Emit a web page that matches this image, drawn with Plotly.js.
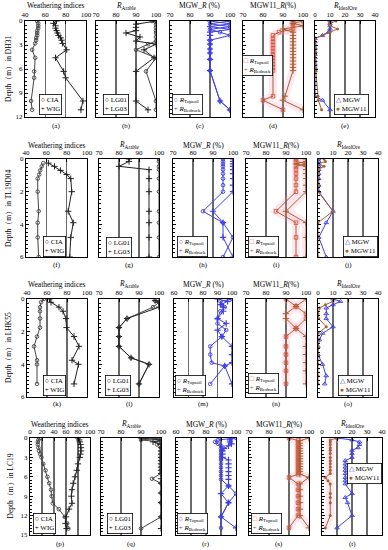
<!DOCTYPE html>
<html><head><meta charset="utf-8">
<script src="https://cdn.plot.ly/plotly-3.0.1.min.js"></script>
<style>html,body{margin:0;padding:0;background:#fff}#chart{width:388px;height:550px}</style>
</head><body><div id="chart"></div>
<script>
// ---------------- DATA ----------------
const wells = ['DH31', 'TL19D04', 'LHK55', 'LC19'];
const panelTitles = ['Weathering indices', '<i>R</i><sub>Arable</sub>', 'MGW_<i>R</i> (%)', 'MGW11_<i>R</i>(%)', '<i>R</i><sub>IdealOre</sub>'];

// DH31
const dep_DH31_a = [0, 0.3, 0.6, 0.9, 1.2, 1.5, 1.8, 2.1, 2.4, 2.8, 3.6, 4.6, 6.3, 7.1, 10.0, 11.1];
const CIA_DH31 = [52, 53, 53, 53, 52, 52, 52, 51, 51, 50, 47, 50, 49, 49, 46, 47];
const WIG_DH31 = [71, 68, 70, 70, 71, 72, 73, 75, 76, 77, 81, 70, 78, 80, 97, 95];
const dep_DH31_b = [0, 0.4, 0.8, 1.2, 1.5, 2.0, 2.5, 2.9, 3.6, 4.6, 6.3, 10.0, 11.1];
const LG01_DH31 = [98, 100, 100, 100, 100, 100, 100, 96, 90, 100, 95, 100, 100];
const LG03_DH31 = [100, 90, 90, 90, 85, 92, 90, 100, 94, 99, 90, 90, 96];
const dep_DH31_c = [0, 0.35, 0.7, 1.05, 1.4, 1.8, 2.4, 2.9, 3.5, 4.0, 4.8, 6.2, 10.0, 11.1];
const Top_DH31_c = [100, 90, 100, 90, 95, 100, 90, 90, 90, 90, 90, 90, 95, 100];
const Bed_DH31_c = [90, 100, 90, 100, 90, 90, 90, 90, 90, 90, 90, 90, 95, 100];
const dep_DH31_de = [0, 0.3, 0.6, 1.0, 1.4, 1.8, 2.2, 2.6, 3.0, 3.4, 3.8, 4.2, 4.6, 5.0, 5.4, 5.8, 6.2, 9.4, 9.9, 11.1];
const Top_DH31_d = [100, 95, 95, 95, 88, 85, 85, 85, 85, 85, 85, 85, 85, 85, 85, 85, 85, 85, 80, 90];
const Bed_DH31_d = [95, 95, 100, 90, 95, 95, 95, 95, 95, 95, 95, 95, 95, 95, 95, 95, 95, 91, 90, 100];
const MGW_DH31 = [10, 10, 10, 10, 9, 5, 0, 0, 0, 0, 0, 0, 0, 0, 0, 0, 0, 0, 5, 10];
const MGW11_DH31 = [14, 10, 10, 15, 10, 5, 0, 0, 0, 0, 0, 0, 0, 0, 0, 0, 0.5, 2, 2.2, 4.4];

// TL19D04
const dep_TL_a = [0.25, 0.45, 0.7, 0.95, 1.2, 2.0, 3.2, 3.9, 4.8, 6.0];
const CIA_TL = [57, 55.5, 54, 53, 51.5, 51.5, 52.5, 51.5, 51.5, 52.5];
const WIG_TL = [62, 68, 74, 80, 84, 85, 81.5, 86.5, 84, 83];
const dep_TL_b = [0, 0.15, 0.45, 0.65, 1.2, 2.0, 3.2, 3.9, 4.8, 6.0];
const LG01_TL = [100, 100, 100, 100, 100, 100, 100, 100, 100, 100];
const LG03_TL = [85, 85, 80, 95, 95, 95, 95, 95, 95, 95];
const dep_TL_cde = [0, 0.15, 0.3, 0.45, 0.65, 0.9, 1.2, 1.6, 2.0, 3.2, 3.9, 4.8, 6.0];
const Top_TL_c = [95, 95, 95, 95, 95, 95, 95, 95, 95, 85, 95, 100, 95];
const Bed_TL_c = [100, 100, 100, 100, 100, 100, 100, 100, 100, 90, 95, 95, 100];
const Top_TL_d = [95, 95, 100, 95, 95, 95, 95, 95, 95, 85, 95, 95, 95];
const Bed_TL_d = [100, 100, 95, 100, 100, 100, 100, 100, 100, 90, 100, 100, 100];
const MGW_TL = [0.5, 0.5, 0.5, 0.5, 0.5, 0.5, 0.5, 0.5, 0.5, 10, 5.5, 0.5, 5.5];
const MGW11_TL = [4, 5, 0, 4, 0, 0, 0, 0, 0, 10, 0, 0, 0];

// LHK55
const dep_LHK_a = [0, 0.2, 0.5, 0.75, 1.2, 1.75, 2.3, 2.9, 3.75, 4.0, 5.2];
const CIA_LHK = [57, 54, 53, 53, 53, 53, 50, 47, 50, 50, 50];
const WIG_LHK = [62.5, 64, 72, 76, 79, 79.5, 87, 92, 85, 91.5, 87];
const dep_LHK_b = [0.1, 0.2, 0.5, 1.2, 1.75, 2.3, 2.9, 3.6, 4.0, 5.2];
const LG01_LHK = [98, 100, 97, 84, 80, 80, 80, 86, 95, 90];
const LG03_LHK = [98, 100, 100, 84, 80, 80, 80, 86, 95, 90];
const dep_LHK_c = [0, 0.15, 0.35, 0.5, 0.75, 1.2, 1.5, 1.9, 2.3, 2.9, 3.4, 3.9, 4.1, 5.2];
const Top_LHK_c = [100, 92, 93, 95, 92, 90, 90, 96, 93, 85, 85, 86, 95, 85];
const Bed_LHK_c = [90, 97, 92, 94, 94, 90, 96, 90, 93, 100, 100, 100, 95, 100];
const dep_LHK_d = [0, 0.45, 0.9, 1.2, 1.8, 2.3, 2.9, 3.4, 3.9, 4.4, 5.2];
const Top_LHK_d = [90, 95, 100, 100, 95, 90, 90, 90, 90, 90, 90];
const Bed_LHK_d = [100, 95, 90, 90, 95, 100, 100, 100, 100, 100, 100];
const dep_LHK_e = [0, 0.15, 0.35, 0.55, 0.9, 1.2, 1.7, 2.1, 2.5, 2.9, 3.4, 4.0, 4.7, 5.2];
const MGW_LHK = [10, 15, 10, 5.5, 5.5, 5.5, 10, 3, 1, 0, 0, 3, 5.5, 4.5];
const MGW11_LHK = [10, 10, 5, 1, 0, 0.5, 5.5, 0, 0, 0, 0, 0, 0, 0];

// LC19
const dep_LC_a = [0, 0.3, 0.6, 1.0, 1.5, 2.0, 2.5, 3.0, 4.0, 5.0, 6.0, 7.0, 8.0, 9.0, 10.1, 11.0, 12.2, 13.2, 14.0];
const CIA_LC = [16, 14, 13, 13, 14, 15, 17, 19, 22, 26, 29, 32, 35, 36, 38, 48, 58, 62, 64];
const WIG_LC = [80, 82, 83, 84, 85, 85, 84, 83, 80, 78, 75, 72, 70, 69, 70, 65, 60, 59, 61];
const dep_LC_b = [0, 0.3, 0.6, 1.0, 1.5, 2.0, 2.5, 3.0, 3.5, 4.0, 4.5, 5.0, 5.5, 6.3, 7.0, 8.5, 10.0, 12.2, 14.0];
const LG01_LC = [100, 90, 100, 98, 100, 100, 100, 100, 100, 100, 100, 100, 100, 95.5, 100, 100, 100, 100, 90];
const LG03_LC = [90, 100, 96, 100, 100, 100, 100, 100, 100, 100, 100, 100, 100, 100, 100, 100, 100, 100, 100];
const dep_LC_c = [0, 0.3, 0.6, 0.9, 1.2, 1.6, 2.0, 2.5, 3.0, 3.4, 4.0, 4.6, 5.2, 5.8, 6.4, 7.4, 8.6, 10.0, 12.2, 13.9];
const Top_LC_c = [100, 88, 86, 88, 90, 90, 90, 90, 90, 90, 90, 90, 90, 90, 90, 95, 100, 95, 90, 90];
const Bed_LC_c = [97, 96, 96, 97, 95, 92, 91, 91, 91, 95, 95, 95, 95, 95, 95, 95, 90, 95, 90, 100];
const dep_LC_d = [0, 0.4, 0.8, 1.2, 1.6, 2.0, 2.4, 2.8, 3.2, 3.6, 4.0, 4.4, 4.8, 5.2, 5.6, 6.1, 7.1, 8.0, 9.0, 10.0, 11.0, 12.0, 13.9];
const Top_LC_d = [90, 94.5, 94.5, 94.5, 94.5, 94.5, 94.5, 94.5, 94.5, 94.5, 94.5, 94.5, 94.5, 94.5, 94.5, 90, 94.5, 94.5, 94.5, 94.5, 94.5, 94.5, 90];
const Bed_LC_d = [100, 95.5, 95.5, 95.5, 95.5, 95.5, 95.5, 95.5, 95.5, 95.5, 95.5, 95.5, 95.5, 95.5, 95.5, 100, 95.5, 95.5, 95.5, 95.5, 95.5, 95.5, 100];
const dep_LC_e = [0, 0.3, 0.6, 1.0, 1.5, 1.9, 2.4, 3.0, 3.5, 4.0, 4.5, 5.0, 5.5, 6.1, 6.6, 7.1, 8.6, 9.2, 10.0, 12.0, 13.9];
const MGW_LC = [10, 20, 25, 25, 24, 20, 20, 20, 15.5, 15.5, 15.5, 15.5, 15.5, 15.5, 15.5, 15.5, 20, 15.5, 17, 20, 10];
const MGW11_LC = [10, 5.5, 5.5, 5.5, 5.5, 5.5, 5.5, 5.5, 5.5, 5.5, 5.5, 5.5, 5.5, 2.2, 4, 5.5, 5.5, 5.5, 5.5, 5.5, 2.2];

// ---------------- LAYOUT / STYLE ----------------
const W = 388, H = 550;
const FONT = 'Liberation Serif, Times New Roman, serif';
const BLUE = '#3f3fe0', BROWN = '#a5612f', RED = '#e0503c';
const PINK = 'rgba(255,150,185,0.22)';
const px = x => x / W, py = y => 1 - y / H;

const rowsGeo = [
  {top: 21, bot: 117, cols: [[25, 86], [96, 156], [170, 230], [243, 303], [315, 375]], titleY: 6, labelY: 126, dmax: 12, dtick: 3, minor: 0.5, ytx: 8},
  {top: 159, bot: 257, cols: [[26, 87], [99, 159], [173, 233], [246, 306], [318, 378]], titleY: 145, labelY: 265, dmax: 6, dtick: 2, minor: 0.25, ytx: 8},
  {top: 299, bot: 397, cols: [[27, 87], [99, 159], [174, 232], [246, 306], [318, 378]], titleY: 284, labelY: 404, dmax: 6, dtick: 2, minor: 0.25, ytx: 8},
  {top: 438, bot: 535, cols: [[30, 90], [101, 161], [176, 236], [249, 309], [322, 382]], titleY: 424, labelY: 544, dmax: 15, dtick: 3, minor: 0.5, ytx: 10}
];
const xRanges = [
  [[40, 100], [70, 100], [70, 100], [70, 100], [0, 40]],
  [[40, 100], [70, 100], [70, 100], [70, 100], [0, 40]],
  [[40, 100], [70, 100], [60, 100], [70, 100], [0, 40]],
  [[0, 100], [70, 100], [60, 100], [70, 100], [0, 40]]
];
const xTicks = [
  [[40, 60, 80, 100], [70, 80, 90, 100], [70, 80, 90, 100], [70, 80, 90, 100], [0, 10, 20, 30, 40]],
  [[40, 60, 80, 100], [70, 80, 90, 100], [70, 80, 90, 100], [70, 80, 90, 100], [0, 10, 20, 30, 40]],
  [[40, 60, 80, 100], [70, 80, 90, 100], [60, 70, 80, 90, 100], [70, 80, 90, 100], [0, 10, 20, 30, 40]],
  [[0, 20, 40, 60, 80, 100], [70, 80, 90, 100], [60, 70, 80, 90, 100], [70, 80, 90, 100], [0, 10, 20, 30, 40]]
];

const S = {
  bwO: {lc: '#444', m: {symbol: 'circle-open', size: 3.6, color: '#444', line: {width: 0.9}}},
  bwP: {lc: '#222', m: {symbol: 'cross-thin', size: 4.5, color: '#222', line: {color: '#222', width: 1}}},
  blO: {lc: BLUE, m: {symbol: 'circle-open', size: 3.6, color: BLUE, line: {width: 0.9}}},
  blP: {lc: BLUE, m: {symbol: 'cross-thin', size: 4.5, color: BLUE, line: {color: BLUE, width: 1.2}}},
  brS: {lc: BROWN, m: {symbol: 'square-open', size: 3.6, color: RED, line: {width: 0.9}}},
  brP: {lc: BROWN, m: {symbol: 'cross-thin', size: 4.5, color: BROWN, line: {color: BROWN, width: 1}}},
  oT: {lc: BLUE, m: {symbol: 'triangle-up-open', size: 4, color: BLUE, line: {width: 0.9}}},
  oC: {lc: BROWN, m: {symbol: 'circle', size: 3, color: BROWN}}
};

// panel series: [xvalues, depths, style, pinkHighlight]
const panelSeries = [
  [[CIA_DH31, dep_DH31_a, 'bwO'], [WIG_DH31, dep_DH31_a, 'bwP']],
  [[LG01_DH31, dep_DH31_b, 'bwO'], [LG03_DH31, dep_DH31_b, 'bwP']],
  [[Top_DH31_c, dep_DH31_c, 'blO'], [Bed_DH31_c, dep_DH31_c, 'blP']],
  [[Top_DH31_d, dep_DH31_de, 'brS', 1], [Bed_DH31_d, dep_DH31_de, 'brP', 1]],
  [[MGW_DH31, dep_DH31_de, 'oT'], [MGW11_DH31, dep_DH31_de, 'oC']],

  [[CIA_TL, dep_TL_a, 'bwO'], [WIG_TL, dep_TL_a, 'bwP']],
  [[LG01_TL, dep_TL_b, 'bwO'], [LG03_TL, dep_TL_b, 'bwP']],
  [[Top_TL_c, dep_TL_cde, 'blO'], [Bed_TL_c, dep_TL_cde, 'blP']],
  [[Top_TL_d, dep_TL_cde, 'brS', 1], [Bed_TL_d, dep_TL_cde, 'brP', 1]],
  [[MGW_TL, dep_TL_cde, 'oT'], [MGW11_TL, dep_TL_cde, 'oC']],

  [[CIA_LHK, dep_LHK_a, 'bwO'], [WIG_LHK, dep_LHK_a, 'bwP']],
  [[LG01_LHK, dep_LHK_b, 'bwO'], [LG03_LHK, dep_LHK_b, 'bwP']],
  [[Top_LHK_c, dep_LHK_c, 'blO'], [Bed_LHK_c, dep_LHK_c, 'blP']],
  [[Top_LHK_d, dep_LHK_d, 'brS', 1], [Bed_LHK_d, dep_LHK_d, 'brP', 1]],
  [[MGW_LHK, dep_LHK_e, 'oT'], [MGW11_LHK, dep_LHK_e, 'oC']],

  [[CIA_LC, dep_LC_a, 'bwO'], [WIG_LC, dep_LC_a, 'bwP']],
  [[LG01_LC, dep_LC_b, 'bwO'], [LG03_LC, dep_LC_b, 'bwP']],
  [[Top_LC_c, dep_LC_c, 'blO'], [Bed_LC_c, dep_LC_c, 'blP']],
  [[Top_LC_d, dep_LC_d, 'brS', 1], [Bed_LC_d, dep_LC_d, 'brP', 1]],
  [[MGW_LC, dep_LC_e, 'oT'], [MGW11_LC, dep_LC_e, 'oC', 1]]
];

const sp = c => `<span style="color:${c}">`;
const legendTexts = [
  '○ CIA<br>+ WIG',
  '○ LG01<br>+ LG03',
  `${sp(BLUE)}○</span> <i>R</i><sub>Topsoil</sub><br>${sp(BLUE)}+</span> <i>R</i><sub>Bedrock</sub>`,
  `${sp(RED)}□</span> <i>R</i><sub>Topsoil</sub><br>${sp(BROWN)}+</span> <i>R</i><sub>Bedrock</sub>`,
  `${sp(BLUE)}△</span> MGW<br>${sp(BROWN)}●</span> MGW11`
];
const legendPos = [
  [[39, 94], [103, 94], [172, 94], [242, 55], [334, 94]],
  [[43, 236], [106, 237], [177, 236], [248, 236], [343, 236]],
  [[43, 375], [105, 375], [175, 375], [248, 373], [338, 375]],
  [[33, 513], [107, 513], [177, 513], [251, 513], [347, 463]]
];

const traces = [];
const layout = {
  width: W, height: H, margin: {l: 0, r: 0, t: 0, b: 0},
  paper_bgcolor: '#fff', plot_bgcolor: '#fff', showlegend: false,
  font: {family: FONT, size: 7, color: '#000'}, annotations: []
};

for (let i = 0; i < 20; i++) {
  const r = Math.floor(i / 5), c = i % 5, g = rowsGeo[r];
  const xn = i === 0 ? 'x' : 'x' + (i + 1), yn = i === 0 ? 'y' : 'y' + (i + 1);
  const xk = i === 0 ? 'xaxis' : 'xaxis' + (i + 1), yk = i === 0 ? 'yaxis' : 'yaxis' + (i + 1);
  const [L, R] = g.cols[c];
  layout[xk] = {
    domain: [px(L), px(R)], anchor: yn, side: 'top', range: xRanges[r][c],
    tickmode: 'array', tickvals: xTicks[r][c], ticks: 'inside', ticklen: 3, tickcolor: '#000',
    tickfont: {family: FONT, size: 7, color: '#000'}, showgrid: true, gridcolor: '#6a6a6a', gridwidth: 1.2,
    zeroline: false, showline: true, mirror: true, linecolor: '#000', linewidth: 1.1, fixedrange: true
  };
  layout[yk] = {
    domain: [py(g.bot), py(g.top)], anchor: xn, range: [g.dmax, 0],
    tickmode: 'linear', tick0: 0, dtick: g.dtick, ticks: 'inside', ticklen: 3, tickcolor: '#000',
    minor: {ticks: 'inside', tick0: 0, dtick: g.minor, ticklen: 1.5, tickcolor: '#000', showgrid: false},
    showticklabels: c === 0, tickfont: {family: FONT, size: 7, color: '#000'},
    showgrid: false, zeroline: false, showline: true, mirror: true, linecolor: '#000', linewidth: 1.1, fixedrange: true
  };
  // pink highlight underneath
  panelSeries[i].forEach(s => {
    if (s[3]) traces.push({type: 'scatter', mode: 'lines', x: s[0], y: s[1], xaxis: xn, yaxis: yn,
      line: {color: PINK, width: 8}, hoverinfo: 'skip'});
  });
  panelSeries[i].forEach(s => {
    const st = S[s[2]];
    traces.push({type: 'scatter', mode: 'lines+markers', x: s[0], y: s[1], xaxis: xn, yaxis: yn,
      line: {color: st.lc, width: 1}, marker: st.m, hoverinfo: 'skip'});
  });
  const cx = (L + R) / 2;
  layout.annotations.push({xref: 'paper', yref: 'paper', x: px(cx), y: py(g.titleY), text: panelTitles[c],
    showarrow: false, xanchor: 'center', yanchor: 'middle', font: {family: FONT, size: 7.5, color: '#000'}});
  layout.annotations.push({xref: 'paper', yref: 'paper', x: px(cx), y: py(g.labelY), text: '(' + 'abcdefghijklmnopqrst'[i] + ')',
    showarrow: false, xanchor: 'center', yanchor: 'middle', font: {family: FONT, size: 7, color: '#000'}});
  const lp = legendPos[r][c];
  layout.annotations.push({xref: 'paper', yref: 'paper', x: px(lp[0]), y: py(lp[1]), text: legendTexts[c],
    showarrow: false, xanchor: 'left', yanchor: 'top', align: 'left', bgcolor: '#fff',
    bordercolor: '#000', borderwidth: 0.8, borderpad: 1, font: {family: FONT, size: 7, color: '#000'}});
  if (c === 0) {
    layout.annotations.push({xref: 'paper', yref: 'paper', x: px(g.ytx), y: py((g.top + g.bot) / 2),
      text: 'Depth（m）in ' + wells[r], textangle: -90, showarrow: false, xanchor: 'center', yanchor: 'middle',
      font: {family: FONT, size: 7.5, color: '#000'}});
  }
}

Plotly.newPlot('chart', traces, layout, {staticPlot: true, displayModeBar: false});
</script></body></html>
